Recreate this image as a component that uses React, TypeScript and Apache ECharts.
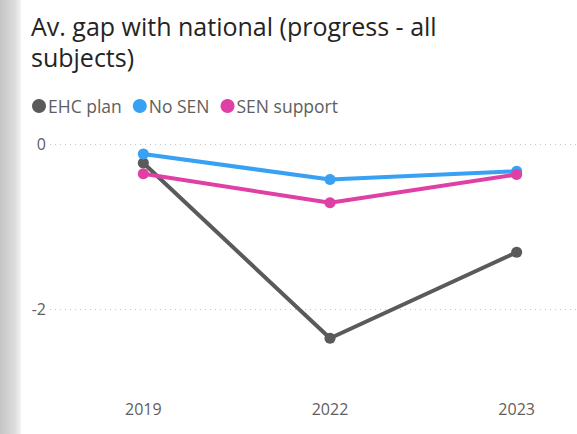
import React, { useEffect, useRef } from "react";
import * as echarts from "echarts";

const years = ["2019", "2022", "2023"];
const ehcPlan = [-0.23, -2.35, -1.31];
const noSen = [-0.12, -0.43, -0.33];
const senSupport = [-0.36, -0.71, -0.37];
const yTickLabels = ["0", "-2"];

const seriesDefs = [
  { name: "EHC plan", data: ehcPlan, color: "#5A5A5A" },
  { name: "No SEN", data: noSen, color: "#38A1F3" },
  { name: "SEN support", data: senSupport, color: "#E03FA6" },
];

export default function App() {
  const ref = useRef<HTMLDivElement>(null);
  useEffect(() => {
    const chart = echarts.init(ref.current!, null, { renderer: "svg" });
    const font = "'Open Sans', 'Noto Sans', sans-serif";
    chart.setOption({
      animation: false,
      backgroundColor: "#ffffff",
      title: {
        text: "Av. gap with national (progress - all\nsubjects)",
        left: 26,
        top: 5,
        textStyle: {
          fontFamily: font,
          fontSize: 25,
          fontWeight: "normal",
          color: "#252423",
          lineHeight: 31,
        },
      },
      legend: {
        left: 27,
        top: 92,
        icon: "circle",
        itemWidth: 14,
        itemHeight: 14,
        itemGap: 11,
        textStyle: {
          fontFamily: font,
          fontSize: 17.5,
          color: "#605E5C",
          padding: [0, 0, 0, -3],
        },
        data: seriesDefs.map((s) => s.name),
      },
      graphic: [
        {
          type: "rect",
          left: 0,
          top: 0,
          shape: { x: 0, y: 0, width: 21, height: 434 },
          style: {
            fill: new echarts.graphic.LinearGradient(0, 0, 1, 0, [
              { offset: 0, color: "#c4c4c4" },
              { offset: 0.7, color: "#dcdcdc" },
              { offset: 1, color: "#f4f4f4" },
            ]),
          },
          z: -1,
        },
      ],
      grid: {
        left: 50,
        width: 560,
        top: 144,
        bottom: 42,
        containLabel: false,
        outerBoundsMode: "none",
      },
      xAxis: {
        type: "category",
        data: years,
        boundaryGap: true,
        axisLine: { show: false },
        axisTick: { show: false },
        axisLabel: {
          fontFamily: font,
          fontSize: 16,
          color: "#605E5C",
          margin: 9,
        },
      },
      yAxis: {
        type: "value",
        min: -3,
        max: 0,
        interval: 1,
        axisLine: { show: false },
        axisTick: { show: false },
        axisLabel: {
          fontFamily: font,
          fontSize: 16,
          color: "#605E5C",
          margin: 4,
          formatter: (v: number) => {
            const s = String(v);
            return yTickLabels.includes(s) ? s : "";
          },
        },
        splitLine: {
          show: true,
          lineStyle: {
            type: [1, 4],
            width: 1,
            color: ["rgba(0,0,0,0)", "#C8C6C4", "rgba(0,0,0,0)", "#C8C6C4"],
          },
        },
      },
      series: seriesDefs.map((s) => ({
        name: s.name,
        type: "line",
        data: s.data,
        color: s.color,
        symbol: "circle",
        symbolSize: 11,
        lineStyle: { width: 4, color: s.color },
        itemStyle: { color: s.color },
        clip: false,
      })),
    });
    return () => chart.dispose();
  }, []);
  return (
    <div
      ref={ref}
      style={{ position: "fixed", left: 0, top: 0, width: 577, height: 434 }}
    />
  );
}
